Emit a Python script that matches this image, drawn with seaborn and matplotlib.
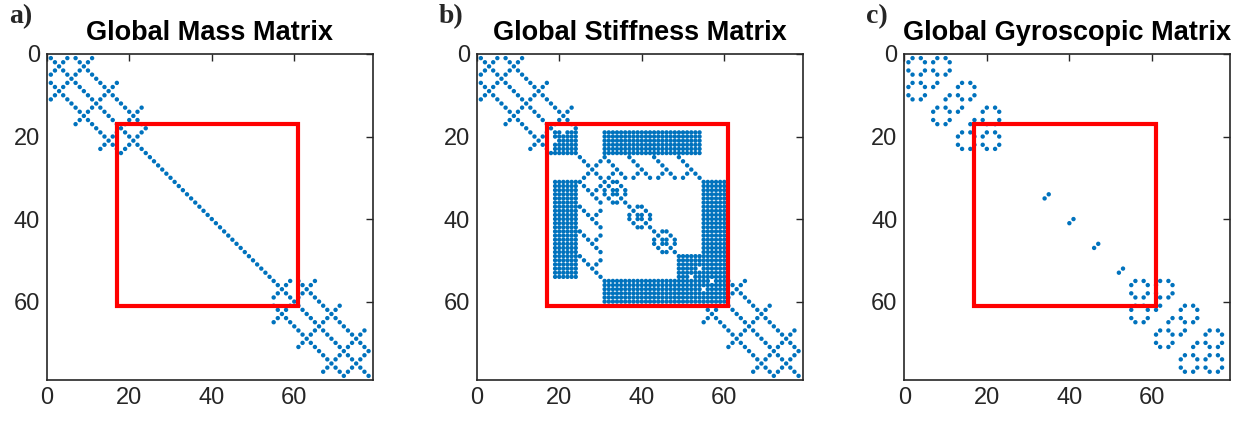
import numpy as np
import pandas as pd
import matplotlib
matplotlib.use("Agg")
import matplotlib.pyplot as plt
import seaborn as sns
from matplotlib.patches import Rectangle

# ---------------- data ----------------
N_DOF = 78

# 6x6 node-block sparsity patterns ('#' = nonzero)
BEAM_END_BLOCK = ["#...#.", ".#.#..", "..#...", ".#.#..", "#...#.", ".....#"]
BEAM_COUPLING = ["#...#.", ".#.#..", "..#...", ".#.#..", "#...#.", ".....#"]
BEAM_INTERIOR = ["#.....", ".#....", "..#...", "...#..", "....#.", ".....#"]
DIAGONAL_ONLY = ["#.....", ".#....", "..#...", "...#..", "....#.", ".....#"]
GYRO_RING = [".#.#..", "#...#.", "......", "#...#.", ".#.#..", "......"]
GYRO_INTERIOR = [".#....", "#.....", "......", "....#.", "...#..", "......"]
DISK_GYRO = ["......", "......", "......", "....#.", "...#..", "......"]

# stiffness core blocks (nodes 4..10)
FULL = ["######"] * 6
END_CONN = ["##.###", "######", ".#####", "######", "######", "######"]
N9_BLOCK = ["######", "######", "######", "#####.", "######", "###.##"]
HUB_BLOCK = ["#.....", ".#...#", "..#.#.", "...#..", "..#.#.", ".#...#"]
HUB_TO_DISK = ["#.....", ".#....", "..#...", "...#..", "..#.#.", ".#...#"]
DISK_TO_HUB = ["#.....", ".#...#", "..#.#.", "...#..", "....#.", ".....#"]
DISK_BLOCK = ["#.##..", ".#..#.", "#.##.#", "#.##.#", ".#..#.", "..##.#"]

shaft1_nodes = [1, 2, 3, 4]
shaft2_nodes = [10, 11, 12, 13]
middle_nodes = [5, 6, 7, 8, 9]
disk_nodes = [6, 7, 8, 9]

core_nodes = [4, 5, 6, 7, 8, 9, 10]
core_layout = [
    # n4         n5           n6           n7           n8           n9          n10
    ["END_CONN", None, "FULL", "FULL", "FULL", "FULL", None],
    [None, "HUB_BLOCK", "HUB_TO_DISK", "HUB_TO_DISK", "HUB_TO_DISK", "HUB_TO_DISK", None],
    ["FULL", "DISK_TO_HUB", "DISK_BLOCK", None, None, None, "FULL"],
    ["FULL", "DISK_TO_HUB", None, "DISK_BLOCK", None, None, "FULL"],
    ["FULL", "DISK_TO_HUB", None, None, "DISK_BLOCK", None, "FULL"],
    ["FULL", "DISK_TO_HUB", None, None, None, "N9_BLOCK", "FULL"],
    [None, None, "FULL", "FULL", "FULL", "FULL", "END_CONN"],
]
core_patterns = {"FULL": FULL, "END_CONN": END_CONN, "N9_BLOCK": N9_BLOCK, "HUB_BLOCK": HUB_BLOCK,
                 "HUB_TO_DISK": HUB_TO_DISK, "DISK_TO_HUB": DISK_TO_HUB, "DISK_BLOCK": DISK_BLOCK}

red_box = (17, 61)  # from, to (both axes)
titles = ["Global Mass Matrix", "Global Stiffness Matrix", "Global Gyroscopic Matrix"]
panel_labels = ["a)", "b)", "c)"]
tick_values = [0, 20, 40, 60]


# ---------------- assemble sparsity patterns ----------------
def put(S, na, nb, pattern):
    oa, ob = 6 * (na - 1), 6 * (nb - 1)
    for i, line in enumerate(pattern):
        for j, ch in enumerate(line):
            if ch == "#":
                S[oa + i, ob + j] = True


def shaft(S, nodes, end_blk, inner_blk, cpl):
    for k, n in enumerate(nodes):
        put(S, n, n, end_blk if k in (0, len(nodes) - 1) else inner_blk)
    for a, b in zip(nodes[:-1], nodes[1:]):
        put(S, a, b, cpl)
        put(S, b, a, cpl)


M = np.zeros((N_DOF, N_DOF), bool)
shaft(M, shaft1_nodes, BEAM_END_BLOCK, BEAM_INTERIOR, BEAM_COUPLING)
shaft(M, shaft2_nodes, BEAM_END_BLOCK, BEAM_INTERIOR, BEAM_COUPLING)
for n in middle_nodes:
    put(M, n, n, DIAGONAL_ONLY)

K = np.zeros((N_DOF, N_DOF), bool)
shaft(K, shaft1_nodes, BEAM_END_BLOCK, BEAM_INTERIOR, BEAM_COUPLING)
shaft(K, shaft2_nodes, BEAM_END_BLOCK, BEAM_INTERIOR, BEAM_COUPLING)
for a, row in zip(core_nodes, core_layout):
    for b, name in zip(core_nodes, row):
        if name is not None:
            put(K, a, b, core_patterns[name])

G = np.zeros((N_DOF, N_DOF), bool)
shaft(G, shaft1_nodes, GYRO_RING, GYRO_INTERIOR, GYRO_RING)
shaft(G, shaft2_nodes, GYRO_RING, GYRO_INTERIOR, GYRO_RING)
for n in disk_nodes:
    put(G, n, n, DISK_GYRO)


def to_frame(S):
    r, c = np.nonzero(S)
    return pd.DataFrame({"row": r + 1, "col": c + 1})


frames = [to_frame(M), to_frame(K), to_frame(G)]

# ---------------- plot ----------------
sns.set_theme(style="white")
plt.rcParams["font.family"] = ["Liberation Sans", "DejaVu Sans"]

fig = plt.figure(figsize=(12.49, 4.26), dpi=100)
W, H = 1249, 426
lefts = [46.7, 476.7, 904.3]
ax_top, ax_size = 54, 326

for k in range(3):
    ax = fig.add_axes([lefts[k] / W, 1 - (ax_top + ax_size) / H, ax_size / W, ax_size / H])
    sns.scatterplot(data=frames[k], x="col", y="row", ax=ax, s=10, color="#0072BD",
                    edgecolor="none", linewidth=0, legend=False)
    ax.add_patch(Rectangle((red_box[0], red_box[0]), red_box[1] - red_box[0], red_box[1] - red_box[0],
                           fill=False, edgecolor="#FF0000", linewidth=3.0, zorder=5))
    ax.set_xlim(0, N_DOF + 1)
    ax.set_ylim(N_DOF + 1, 0)
    ax.set_xticks(tick_values)
    ax.set_yticks(tick_values)
    ax.set_xlabel("")
    ax.set_ylabel("")
    ax.tick_params(direction="in", length=5, width=1.0, top=True, right=True,
                   labelsize=17, colors="#262626", pad=5)
    for sp in ax.spines.values():
        sp.set_color("#262626")
        sp.set_linewidth(1.2)
    ax.set_title(titles[k], fontsize=19.5, fontweight="bold", pad=10, color="black")
    fig.text((lefts[k] - 38) / W, 1 - 17 / H, panel_labels[k], fontsize=20, fontweight="bold",
             family="Liberation Serif", ha="left", va="center")

fig.savefig("out.png", dpi=100)
